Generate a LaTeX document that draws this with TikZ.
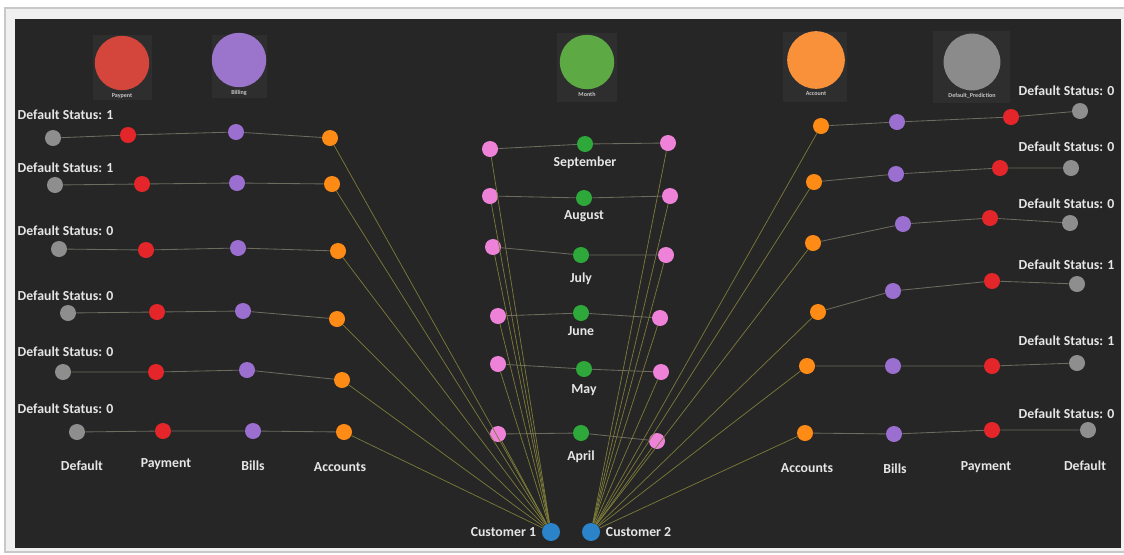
\documentclass[tikz,border=0pt]{standalone}
\usepackage{fontspec}
\setmainfont{Carlito}
\usepackage{tikz}
\usetikzlibrary{positioning}
\definecolor{Panel}{HTML}{262626}
\definecolor{Frame}{HTML}{F0F0F0}
\definecolor{FrameLine}{HTML}{C8C8C8}
\definecolor{Tile}{HTML}{2E2E2E}
\definecolor{Ink}{HTML}{E6E6E6}
\definecolor{TinyInk}{HTML}{C4C4C4}
\definecolor{Link}{HTML}{6C6B5E}
\definecolor{CustLink}{HTML}{7D7C3A}
\definecolor{DotGray}{HTML}{8E8E8E}
\definecolor{DotRed}{HTML}{E4262B}
\definecolor{DotPurple}{HTML}{9A6FCF}
\definecolor{DotOrange}{HTML}{FF8B17}
\definecolor{DotPink}{HTML}{EE82D8}
\definecolor{DotGreen}{HTML}{2EA83A}
\definecolor{DotBlue}{HTML}{2B83C9}
\definecolor{LegRed}{HTML}{D4463B}
\definecolor{LegPurple}{HTML}{9B74CC}
\definecolor{LegGreen}{HTML}{5DAA45}
\definecolor{LegOrange}{HTML}{F8913A}
\definecolor{LegGray}{HTML}{8B8B8B}

\begin{document}
\begin{tikzpicture}[x=0.025cm,y=-0.025cm,
    dot/.style={circle,inner sep=0pt,minimum size=0.4cm},
    cust/.style={circle,inner sep=0pt,minimum size=0.45cm,fill=DotBlue},
    legend/.style={circle,inner sep=0pt,minimum size=1.36cm},
    tag/.style={text=Ink,font=\bfseries\fontsize{9.8}{11}\selectfont,inner sep=1pt},
    tiny/.style={text=TinyInk,font=\bfseries\fontsize{4.3}{5}\selectfont,inner sep=0pt},
    link/.style={Link,line width=0.6pt},
    feed/.style={CustLink,line width=0.5pt}]
  \useasboundingbox (0,0) rectangle (1124,554);
  \fill[white] (0,0) rectangle (1124,554);
  \fill[Frame,draw=FrameLine,line width=0.8pt] (5,8) rectangle (1128,552);
  \fill[Panel] (15,19) rectangle (1121,548);

  % legend
  \fill[Tile] (93,35) rectangle (152,100);
  \fill[Tile] (212,35) rectangle (267,98);
  \fill[Tile] (557,33) rectangle (617,102);
  \fill[Tile] (783,32) rectangle (847,102);
  \fill[Tile] (933,31) rectangle (1010,103);
  \node[legend,fill=LegRed] (paylegend) at (122,63) {};
  \node[legend,fill=LegPurple] (billlegend) at (239,60) {};
  \node[legend,fill=LegGreen] (monthlegend) at (587,62) {};
  \node[legend,fill=LegOrange,minimum size=1.44cm] (acclegend) at (816,60) {};
  \node[legend,fill=LegGray,minimum size=1.42cm] (predlegend) at (972,62) {};
  \node[tiny,below=0.06cm of paylegend] (paytext) {Paypent};
  \node[tiny,below=0.06cm of billlegend] (billtext) {Billing};
  \node[tiny,below=0.06cm of monthlegend] (monthtext) {Month};
  \node[tiny,below=0.06cm of acclegend] (acctext) {Account};
  \node[tiny,below=0.06cm of predlegend] (predtext) {Default\_Prediction};

  % left customer
  \foreach \i/\st/\ly/\gx/\gy/\rx/\ry/\bx/\by/\ax/\ay in {
      1/1/115/53/138/128/135/236/132/330/138,
      2/1/168/55/185/142/184/237/183/332/184,
      3/0/231/59/249/146/250/238/248/338/251,
      4/0/296/68/313/157/312/243/311/337/319,
      5/0/352/63/372/156/372/247/370/342/380,
      6/0/409/77/432/163/431/253/431/344/432}{
    \node[dot,fill=DotGray] (lgray\i) at (\gx,\gy) {};
    \node[dot,fill=DotRed] (lred\i) at (\rx,\ry) {};
    \node[dot,fill=DotPurple] (lbill\i) at (\bx,\by) {};
    \node[dot,fill=DotOrange] (lacc\i) at (\ax,\ay) {};
    \node[tag,anchor=west] (lstatus\i) at (16,\ly) {Default Status: \st};
    \draw[link] (lgray\i) -- (lred\i) -- (lbill\i) -- (lacc\i);
  }
  \node[tag] (ldefault) at (82,466) {Default};
  \node[tag] (lpayment) at (166,464) {Payment};
  \node[tag] (lbills) at (253,466) {Bills};
  \node[tag] (laccounts) at (340,467) {Accounts};

  % months
  \foreach \i/\mon/\gap/\lx/\lyy/\gx/\gy/\rx/\ry in {
      1/September/0.08/490/149/585/144/668/143,
      2/August/0.06/490/196/584/198/670/196,
      3/July/0.2/493/247/581/255/666/255,
      4/June/0.1/498/316/581/313/660/318,
      5/May/0.13/498/364/584/369/661/372,
      6/April/0.2/498/434/581/433/657/441}{
    \node[dot,fill=DotPink] (lpink\i) at (\lx,\lyy) {};
    \node[dot,fill=DotGreen] (green\i) at (\gx,\gy) {};
    \node[dot,fill=DotPink] (rpink\i) at (\rx,\ry) {};
    \node[tag,below=\gap cm of green\i] (month\i) {\mon};
    \draw[link] (lpink\i) -- (green\i) -- (rpink\i);
  }

  % right customer
  \foreach \i/\st/\ly/\ax/\ay/\bx/\by/\rx/\ry/\gx/\gy in {
      1/0/91/821/126/897/122/1011/117/1080/111,
      2/0/147/814/182/896/174/1000/168/1071/168,
      3/0/204/813/243/903/224/990/218/1070/223,
      4/1/265/818/312/893/291/992/281/1077/284,
      5/1/341/807/366/893/366/992/366/1077/363,
      6/0/414/805/433/894/434/992/430/1088/430}{
    \node[dot,fill=DotOrange] (racc\i) at (\ax,\ay) {};
    \node[dot,fill=DotPurple] (rbill\i) at (\bx,\by) {};
    \node[dot,fill=DotRed] (rred\i) at (\rx,\ry) {};
    \node[dot,fill=DotGray] (rgray\i) at (\gx,\gy) {};
    \node[tag,anchor=east] (rstatus\i) at (1116,\ly) {Default Status: \st};
    \draw[link] (racc\i) -- (rbill\i) -- (rred\i) -- (rgray\i);
  }
  \node[tag] (raccounts) at (807,468) {Accounts};
  \node[tag] (rbills) at (895,469) {Bills};
  \node[tag] (rpayment) at (986,467) {Payment};
  \node[tag] (rdefault) at (1085,466) {Default};

  % customers
  \node[cust] (cust1) at (551,532) {};
  \node[cust] (cust2) at (591,532) {};
  \node[tag,left=0.1cm of cust1] (cust1text) {Customer 1};
  \node[tag,right=0.1cm of cust2] (cust2text) {Customer 2};
  \foreach \i in {1,...,6}{
    \draw[feed] (cust1) -- (lacc\i);
    \draw[feed] (cust1) -- (lpink\i);
    \draw[feed] (cust2) -- (racc\i);
    \draw[feed] (cust2) -- (rpink\i);
  }
\end{tikzpicture}
\end{document}
